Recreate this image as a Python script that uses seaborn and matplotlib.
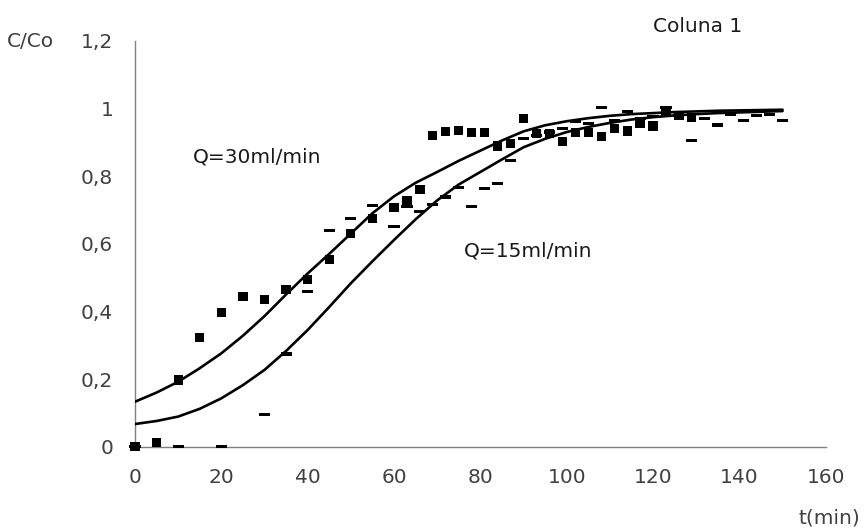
import matplotlib
matplotlib.use("Agg")
import matplotlib.pyplot as plt
import seaborn as sns
import pandas as pd

# ---- data ----
t_q30 = [0, 5, 10, 15, 20, 25, 30, 35, 40, 45, 50, 55, 60, 63, 66, 69, 72, 75, 78, 81,
         84, 87, 90, 93, 96, 99, 102, 105, 108, 111, 114, 117, 120, 123, 126, 129]
c_q30 = [0.0, 0.012, 0.197, 0.323, 0.397, 0.445, 0.436, 0.465, 0.495, 0.554, 0.631, 0.674,
         0.707, 0.727, 0.761, 0.920, 0.932, 0.935, 0.929, 0.929, 0.889, 0.897, 0.969, 0.926,
         0.926, 0.902, 0.928, 0.928, 0.916, 0.941, 0.933, 0.956, 0.948, 0.990, 0.978, 0.973]

t_q15 = [0, 10, 20, 30, 35, 40, 45, 50, 55, 60, 63, 66, 69, 72, 75, 78, 81, 84, 87, 90,
         93, 96, 99, 102, 105, 108, 111, 114, 117, 120, 123, 126, 129, 132, 135, 138, 141,
         144, 147, 150]
c_q15 = [0.0, 0.0, 0.0, 0.094, 0.274, 0.460, 0.638, 0.675, 0.714, 0.652, 0.709, 0.695,
         0.717, 0.738, 0.765, 0.709, 0.762, 0.778, 0.845, 0.910, 0.920, 0.930, 0.940, 0.960,
         0.955, 1.002, 0.965, 0.991, 0.970, 0.975, 1.003, 0.980, 0.904, 0.969, 0.951, 0.983,
         0.963, 0.978, 0.983, 0.964]

t_fit = [0, 5, 10, 15, 20, 25, 30, 35, 40, 45, 50, 55, 60, 65, 70, 75, 80, 85, 90, 95,
         100, 105, 110, 115, 120, 125, 130, 135, 140, 145, 150]
fit_q30 = [0.133, 0.160, 0.192, 0.232, 0.276, 0.328, 0.386, 0.450, 0.512, 0.570, 0.630,
           0.690, 0.740, 0.780, 0.812, 0.845, 0.875, 0.905, 0.932, 0.950, 0.962, 0.971,
           0.978, 0.983, 0.986, 0.989, 0.991, 0.993, 0.994, 0.995, 0.996]
fit_q15 = [0.067, 0.076, 0.089, 0.112, 0.143, 0.182, 0.227, 0.283, 0.345, 0.413, 0.483,
           0.548, 0.611, 0.672, 0.728, 0.775, 0.812, 0.849, 0.885, 0.910, 0.930, 0.945,
           0.957, 0.967, 0.974, 0.979, 0.983, 0.986, 0.988, 0.990, 0.992]

x_ticks = [0, 20, 40, 60, 80, 100, 120, 140, 160]
y_ticks = [0, 0.2, 0.4, 0.6, 0.8, 1.0, 1.2]
y_tick_labels = ["0", "0,2", "0,4", "0,6", "0,8", "1", "1,2"]

sns.set_style("white")
plt.rcParams["font.family"] = ["DejaVu Sans"]

FS = 14.5
W, H = 864, 531

fig = plt.figure(figsize=(8.64, 5.31), dpi=100)
ax = fig.add_axes([135 / W, 1 - 446.7 / H, (825.7 - 135) / W, (446.7 - 40.7) / H])

df30 = pd.DataFrame({"t": t_q30, "c": c_q30})
df15 = pd.DataFrame({"t": t_q15, "c": c_q15})
dfit = pd.DataFrame({"t": t_fit, "q30": fit_q30, "q15": fit_q15})

sns.lineplot(data=dfit, x="t", y="q30", ax=ax, color="black", lw=1.9, zorder=3)
sns.lineplot(data=dfit, x="t", y="q15", ax=ax, color="black", lw=1.9, zorder=3)

dash = [(-1, -0.28), (1, -0.28), (1, 0.28), (-1, 0.28), (-1, -0.28)]
sns.scatterplot(data=df15, x="t", y="c", ax=ax, marker=dash, s=64, color="black",
                edgecolor="none", linewidth=0, zorder=4, clip_on=False)
sns.scatterplot(data=df30, x="t", y="c", ax=ax, marker="s", s=44, color="black",
                edgecolor="none", linewidth=0, zorder=5, clip_on=False)

ax.set_xlim(0, 160)
ax.set_ylim(0, 1.2)
ax.set_xticks(x_ticks)
ax.set_xticklabels([str(v) for v in x_ticks])
ax.set_yticks(y_ticks)
ax.set_yticklabels(y_tick_labels)
ax.set_xlabel("")
ax.set_ylabel("")

for s in ["top", "right"]:
    ax.spines[s].set_visible(False)
for s in ["left", "bottom"]:
    ax.spines[s].set_color("#808080")
    ax.spines[s].set_linewidth(1.0)
ax.tick_params(axis="both", direction="out", length=8, width=1.0, color="#808080",
               labelcolor="#404040", labelsize=FS)
ax.tick_params(axis="y", pad=7.7)
ax.tick_params(axis="x", pad=7.5)

ax.text(13.4, (446.7 - 162.5) / 338.3, "Q=30ml/min", fontsize=FS, color="#1a1a1a",
        va="baseline", ha="left")
ax.text((464.3 - 135) / 4.317, (446.7 - 256.7) / 338.3, "Q=15ml/min", fontsize=FS,
        color="#1a1a1a", va="baseline", ha="left")

fig.text(742 / W, 1 - 32 / H, "Coluna 1", fontsize=FS, color="#1a1a1a", va="baseline", ha="right")
fig.text(7.3 / W, 1 - 47.3 / H, "C/Co", fontsize=FS, color="#404040", va="baseline", ha="left")
fig.text(860 / W, 1 - 517.5 / H, "t(min)", fontsize=FS, color="#404040", va="center", ha="right")

fig.savefig("out.png", dpi=100)
